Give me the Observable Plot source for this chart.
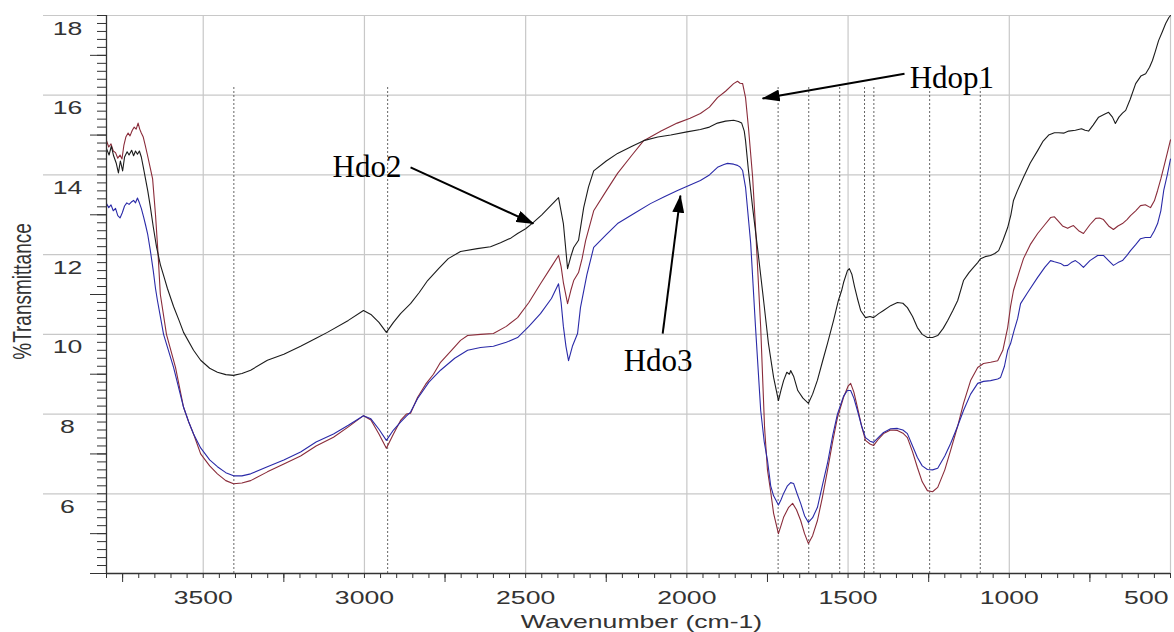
<!DOCTYPE html>
<html>
<head>
<meta charset="utf-8">
<script src="https://cdn.jsdelivr.net/npm/d3@7"></script>
<script src="https://cdn.jsdelivr.net/npm/@observablehq/plot@0.6"></script>
<style>
  html, body { margin: 0; padding: 0; background: #fff; }
  #chart svg { display: block; }
</style>
</head>
<body>
<div id="chart"></div>
<script>
// ---- Data: [wavenumber (cm-1), %Transmittance] ----
const hdo2 = [[3800,14.66],[3792,14.5],[3785,14.72],[3778,14.48],[3770,14.3],[3763,14.05],[3757,14.35],[3750,14.1],[3744,14.45],[3736,14.58],[3730,14.5],[3722,14.62],[3716,14.48],[3710,14.6],[3704,14.52],[3698,14.6],[3692,14.45],[3686,14.2],[3679,13.9],[3672,13.6],[3664,13.2],[3655,12.7],[3645,12.2],[3633,11.75],[3620,11.4],[3611,11.15],[3592,10.7],[3575,10.35],[3561,10.05],[3530,9.6],[3508,9.35],[3480,9.15],[3456,9.05],[3430,8.99],[3406,8.97],[3380,9.02],[3353,9.1],[3301,9.35],[3250,9.5],[3198,9.7],[3150,9.9],[3115,10.05],[3050,10.35],[3003,10.6],[2980,10.5],[2955,10.3],[2932,10.05],[2910,10.3],[2888,10.52],[2857,10.77],[2830,11.05],[2804,11.35],[2770,11.65],[2740,11.9],[2702,12.08],[2650,12.15],[2609,12.2],[2578,12.3],[2545,12.42],[2525,12.53],[2500,12.65],[2476,12.81],[2450,13.0],[2420,13.25],[2398,13.43],[2383,12.78],[2370,11.65],[2360,11.95],[2351,12.18],[2336,12.36],[2320,13.18],[2305,13.7],[2289,14.1],[2250,14.35],[2215,14.54],[2170,14.72],[2134,14.86],[2090,14.95],[2050,15.0],[2000,15.08],[1958,15.14],[1930,15.2],[1905,15.3],[1880,15.35],[1855,15.37],[1840,15.34],[1830,15.3],[1822,15.1],[1818,14.86],[1809,14.11],[1796,13.18],[1781,12.18],[1762,10.85],[1747,9.77],[1731,8.92],[1716,8.34],[1708,8.6],[1700,8.84],[1690,9.05],[1682,9.0],[1678,9.09],[1669,8.95],[1656,8.59],[1640,8.4],[1623,8.27],[1610,8.5],[1595,8.85],[1580,9.3],[1564,9.77],[1545,10.35],[1530,10.85],[1520,11.1],[1514,11.3],[1502,11.6],[1496,11.65],[1488,11.5],[1480,11.2],[1471,10.9],[1461,10.6],[1446,10.42],[1432,10.45],[1421,10.42],[1405,10.52],[1390,10.6],[1368,10.72],[1347,10.8],[1330,10.78],[1316,10.67],[1300,10.45],[1285,10.17],[1270,10.0],[1254,9.92],[1238,9.92],[1222,9.97],[1205,10.15],[1191,10.35],[1175,10.6],[1160,10.85],[1142,11.35],[1125,11.55],[1111,11.68],[1098,11.8],[1089,11.9],[1075,11.95],[1058,11.98],[1045,12.03],[1033,12.1],[1020,12.35],[1005,12.68],[995,13.0],[987,13.36],[975,13.6],[956,13.94],[935,14.3],[912,14.61],[895,14.85],[878,15.0],[860,15.06],[847,15.06],[830,15.05],[816,15.1],[795,15.12],[776,15.16],[765,15.12],[754,15.1],[740,15.25],[723,15.45],[705,15.52],[692,15.57],[680,15.45],[671,15.29],[660,15.45],[649,15.55],[639,15.62],[625,15.9],[608,16.29],[592,16.48],[577,16.54],[565,16.7],[556,16.87],[547,17.1],[537,17.37],[525,17.6],[515,17.8],[505,17.95],[500,18.0]];

const hdop1 = [[3800,14.86],[3793,14.7],[3786,14.78],[3779,14.6],[3772,14.56],[3765,14.42],[3758,14.5],[3752,14.4],[3746,14.75],[3740,14.95],[3733,15.05],[3727,14.98],[3720,15.12],[3714,15.2],[3708,15.15],[3702,15.3],[3697,15.15],[3692,15.05],[3686,14.95],[3680,14.75],[3673,14.5],[3665,14.2],[3657,13.9],[3648,13.0],[3640,12.0],[3633,11.0],[3614,10.0],[3586,9.17],[3561,8.17],[3545,7.8],[3530,7.5],[3508,7.0],[3480,6.7],[3456,6.5],[3430,6.33],[3406,6.25],[3380,6.27],[3353,6.33],[3301,6.55],[3250,6.75],[3198,6.95],[3150,7.2],[3096,7.42],[3050,7.68],[3003,7.96],[2980,7.85],[2955,7.5],[2932,7.14],[2910,7.5],[2888,7.84],[2870,8.0],[2857,8.02],[2835,8.42],[2810,8.75],[2786,9.0],[2764,9.3],[2730,9.6],[2702,9.85],[2680,9.97],[2640,10.0],[2600,10.02],[2560,10.2],[2525,10.42],[2490,10.8],[2454,11.27],[2420,11.7],[2398,11.98],[2390,11.7],[2383,11.3],[2370,10.77],[2360,11.1],[2351,11.35],[2336,11.55],[2325,11.9],[2314,12.35],[2289,13.1],[2250,13.6],[2215,14.04],[2170,14.5],[2134,14.86],[2080,15.1],[2030,15.3],[1990,15.42],[1958,15.54],[1930,15.7],[1905,15.94],[1880,16.1],[1855,16.29],[1843,16.35],[1835,16.3],[1827,16.29],[1818,15.94],[1809,15.19],[1796,13.94],[1787,12.68],[1771,10.17],[1759,7.66],[1750,6.6],[1740,6.05],[1731,5.51],[1716,5.0],[1708,5.2],[1700,5.41],[1685,5.65],[1672,5.76],[1660,5.6],[1647,5.33],[1635,5.0],[1623,4.75],[1610,4.95],[1595,5.33],[1580,5.9],[1564,6.58],[1548,7.3],[1533,7.91],[1514,8.42],[1500,8.7],[1492,8.77],[1482,8.55],[1471,8.17],[1458,7.7],[1446,7.34],[1432,7.25],[1421,7.21],[1405,7.38],[1390,7.51],[1368,7.6],[1347,7.59],[1330,7.52],[1316,7.41],[1300,7.05],[1285,6.66],[1270,6.3],[1254,6.08],[1238,6.05],[1222,6.16],[1200,6.6],[1182,7.09],[1160,7.7],[1142,8.27],[1120,8.84],[1098,9.17],[1080,9.27],[1058,9.3],[1036,9.34],[1020,9.6],[1005,10.17],[996,10.7],[987,11.1],[970,11.55],[956,11.9],[935,12.25],[912,12.53],[890,12.75],[872,12.93],[860,12.95],[850,12.86],[835,12.72],[819,12.66],[810,12.7],[801,12.73],[785,12.6],[770,12.53],[750,12.75],[732,12.91],[720,12.92],[708,12.88],[692,12.72],[677,12.63],[663,12.72],[649,12.78],[635,12.88],[624,12.98],[608,13.1],[593,13.23],[578,13.25],[562,13.18],[550,13.35],[540,13.61],[530,13.9],[521,14.19],[510,14.55],[500,14.88]];

const hdo3 = [[3800,13.28],[3793,13.18],[3786,13.25],[3779,13.1],[3772,13.16],[3765,12.98],[3758,12.92],[3751,13.05],[3744,13.22],[3737,13.3],[3730,13.26],[3723,13.32],[3716,13.36],[3710,13.3],[3704,13.42],[3698,13.3],[3692,13.16],[3685,12.95],[3679,12.75],[3672,12.5],[3664,12.1],[3655,11.6],[3648,11.15],[3642,10.85],[3623,10.0],[3592,9.17],[3561,8.17],[3545,7.8],[3530,7.5],[3508,7.15],[3480,6.85],[3456,6.68],[3430,6.53],[3406,6.45],[3380,6.45],[3353,6.5],[3301,6.68],[3250,6.85],[3198,7.05],[3150,7.3],[3096,7.5],[3050,7.72],[3003,7.96],[2980,7.88],[2955,7.62],[2932,7.34],[2910,7.6],[2888,7.8],[2870,7.95],[2857,8.05],[2835,8.39],[2800,8.8],[2764,9.1],[2720,9.4],[2680,9.6],[2640,9.67],[2600,9.7],[2560,9.8],[2525,9.92],[2490,10.2],[2454,10.52],[2420,10.9],[2398,11.27],[2390,10.8],[2383,10.2],[2375,9.7],[2367,9.34],[2355,9.7],[2339,10.02],[2330,10.67],[2310,11.5],[2289,12.18],[2250,12.5],[2215,12.78],[2160,13.05],[2113,13.28],[2070,13.45],[2029,13.61],[1990,13.75],[1958,13.86],[1930,14.0],[1905,14.19],[1885,14.26],[1874,14.29],[1855,14.27],[1843,14.24],[1835,14.2],[1827,14.11],[1818,13.69],[1802,12.28],[1787,10.17],[1771,8.09],[1760,7.3],[1750,6.84],[1740,6.2],[1731,5.95],[1716,5.72],[1708,5.85],[1700,6.01],[1688,6.2],[1678,6.28],[1669,6.26],[1658,6.0],[1647,5.76],[1635,5.45],[1623,5.28],[1610,5.4],[1595,5.66],[1580,6.2],[1564,6.76],[1548,7.45],[1533,8.0],[1514,8.45],[1502,8.59],[1492,8.59],[1482,8.4],[1471,8.09],[1458,7.7],[1446,7.41],[1432,7.32],[1421,7.29],[1405,7.42],[1390,7.54],[1368,7.63],[1347,7.64],[1330,7.6],[1316,7.51],[1300,7.2],[1285,6.91],[1270,6.7],[1254,6.61],[1238,6.6],[1222,6.64],[1200,6.95],[1182,7.26],[1160,7.7],[1142,8.09],[1120,8.5],[1098,8.77],[1080,8.82],[1058,8.84],[1036,8.88],[1027,8.92],[1015,9.2],[1005,9.6],[996,9.77],[985,10.1],[974,10.4],[965,10.77],[943,11.05],[912,11.43],[890,11.68],[872,11.85],[860,11.82],[841,11.78],[830,11.72],[819,11.73],[808,11.8],[795,11.85],[783,11.78],[770,11.68],[750,11.85],[726,11.98],[708,11.98],[692,11.85],[677,11.73],[663,11.8],[649,11.85],[635,11.98],[624,12.1],[608,12.25],[593,12.4],[578,12.43],[562,12.43],[550,12.6],[540,12.78],[530,13.1],[521,13.61],[510,14.0],[500,14.4]];

const seriesNames = ["Hdop1", "Hdo2", "Hdo3"];
const seriesColors = ["#8a2c3a", "#1c1c1c", "#2a2aa8"];

const xTickValues = [3500, 3000, 2500, 2000, 1500, 1000, 500];
const yTickValues = [6, 8, 10, 12, 14, 16, 18];
const xTitle = "Wavenumber (cm-1)";
const yTitle = "%Transmittance";

// dotted peak markers (cm-1)
const peakMarkers = [3405, 2928, 1717, 1622, 1526, 1449, 1420, 1247, 1090];
const peakMarkerTop = 16.2;

// annotations: label position and arrow (from -> to), in data units
const annLabels = ["Hdop1", "Hdo2", "Hdo3"];
const annLabelWn = [1309, 3099, 2196];
const annLabelT = [16.19, 13.94, 9.09];
const annFromWn = [1325, 2857, 2075];
const annFromT = [16.54, 14.19, 10.02];
const annToWn = [1765, 2476, 2020];
const annToT = [15.92, 12.78, 13.48];

// ---- build tables ----
const rows = [];
[["Hdop1", hdop1], ["Hdo2", hdo2], ["Hdo3", hdo3]].forEach(([name, pts]) => {
  pts.forEach(([wn, t]) => rows.push({series: name, wn, t}));
});
const annIdx = annLabels.map((_, i) => i);

const xMinor = d3.range(3800, 499, -50);
const xMid = xMinor.filter(v => v % 500 === 250);
const yMinor = d3.range(40, 181, 2).map(v => v / 10);
const yMid = [4, 5, 7, 9, 11, 13, 15, 17];

const axisInk = "#333";
const gridInk = "#c8c8c8";
const plainNum = d => String(d);

const chart = Plot.plot({
  width: 1174,
  height: 632,
  marginLeft: 106,
  marginRight: 4,
  marginTop: 15,
  marginBottom: 59,
  x: {domain: [3800, 500], label: null},
  y: {domain: [4, 18], label: null},
  color: {domain: seriesNames, range: seriesColors},
  style: {fontFamily: "'Liberation Sans', Arial, sans-serif", fontSize: "19px", color: axisInk, background: "#fff", overflow: "visible"},
  marks: [
    Plot.gridY({ticks: yTickValues, stroke: gridInk, strokeOpacity: 1, strokeWidth: 1.2}),
    Plot.gridX({ticks: xTickValues, stroke: gridInk, strokeOpacity: 1, strokeWidth: 1.2}),
    Plot.axisY({ticks: yTickValues, tickSize: 63, stroke: gridInk, strokeWidth: 1.2, fill: "none", label: null}),
    Plot.axisY({ticks: yMinor, tickSize: 9, stroke: axisInk, fill: "none", label: null}),
    Plot.axisY({ticks: yMid, tickSize: 16, stroke: axisInk, fill: "none", label: null}),
    Plot.axisX({ticks: xMinor, tickSize: 5, stroke: axisInk, fill: "none", label: null}),
    Plot.axisX({ticks: xMid, tickSize: 9, stroke: axisInk, fill: "none", label: null}),
    Plot.ruleX(peakMarkers, {y1: 4, y2: peakMarkerTop, stroke: "#222", strokeWidth: 0.7, strokeDasharray: "2,2"}),
    Plot.line(rows, {x: "wn", y: "t", z: "series", stroke: "series", strokeWidth: 1.1}),
    Plot.ruleX([3800], {stroke: axisInk, strokeWidth: 1.3}),
    Plot.ruleY([4], {stroke: axisInk, strokeWidth: 1.3}),
    Plot.axisY({ticks: yTickValues, tickSize: 0, tickPadding: 39, textAnchor: "middle", dy: 13, fill: axisInk, tickFormat: plainNum, label: null}),
    Plot.axisX({ticks: xTickValues.filter(v => v !== 500), tickSize: 0, tickPadding: 17, fill: axisInk, tickFormat: plainNum, label: null}),
    Plot.axisX({ticks: [500], tickSize: 0, tickPadding: 17, textAnchor: "end", dx: -2, fill: axisInk, tickFormat: plainNum, label: null}),
    Plot.text([xTitle], {text: d => d, frameAnchor: "bottom", lineAnchor: "bottom", dy: 54, dx: 3, fill: axisInk, fontSize: 19}),
    Plot.text([yTitle], {text: d => d, frameAnchor: "left", rotate: -90, textAnchor: "middle", lineAnchor: "middle", dx: -84, dy: -3, fill: axisInk, fontSize: 19}),
    Plot.link(annIdx, {x1: i => annFromWn[i], y1: i => annFromT[i], x2: i => annToWn[i], y2: i => annToT[i], stroke: "#000", strokeWidth: 2}),
    Plot.text(annIdx, {x: i => annLabelWn[i], y: i => annLabelT[i], text: i => annLabels[i], textAnchor: "start", lineAnchor: "bottom", fontSize: 31, fontFamily: "'Liberation Serif', 'Times New Roman', serif", fill: "#000"})
  ]
});

// Horizontally stretched axis text (the original figure is stretched horizontally)
chart.querySelectorAll("text").forEach(t => {
  if (annLabels.includes(t.textContent)) return;
  let tr = t.getAttribute("transform") || "";
  const xa = t.getAttribute("x");
  if (xa && !/em$/.test(xa)) { t.removeAttribute("x"); tr = `translate(${xa},0) ` + tr; }
  const rotated = /rotate\(/.test(tr);
  t.setAttribute("transform", tr + (rotated ? " scale(1,1.4)" : " scale(1.4,1)"));
});

// Filled arrowheads for the annotation arrows
const ns = "http://www.w3.org/2000/svg";
const defs = document.createElementNS(ns, "defs");
const marker = document.createElementNS(ns, "marker");
marker.setAttribute("id", "annot-arrowhead");
marker.setAttribute("viewBox", "0 0 18 12");
marker.setAttribute("refX", "17");
marker.setAttribute("refY", "6");
marker.setAttribute("markerWidth", "18");
marker.setAttribute("markerHeight", "12");
marker.setAttribute("markerUnits", "userSpaceOnUse");
marker.setAttribute("orient", "auto");
const head = document.createElementNS(ns, "path");
head.setAttribute("d", "M0,0L18,6L0,12Z");
head.setAttribute("fill", "#000");
marker.appendChild(head);
defs.appendChild(marker);
chart.insertBefore(defs, chart.firstChild);
chart.querySelectorAll('g[aria-label="link"] path').forEach(p => p.setAttribute("marker-end", "url(#annot-arrowhead)"));

document.getElementById("chart").appendChild(chart);
</script>
</body>
</html>
